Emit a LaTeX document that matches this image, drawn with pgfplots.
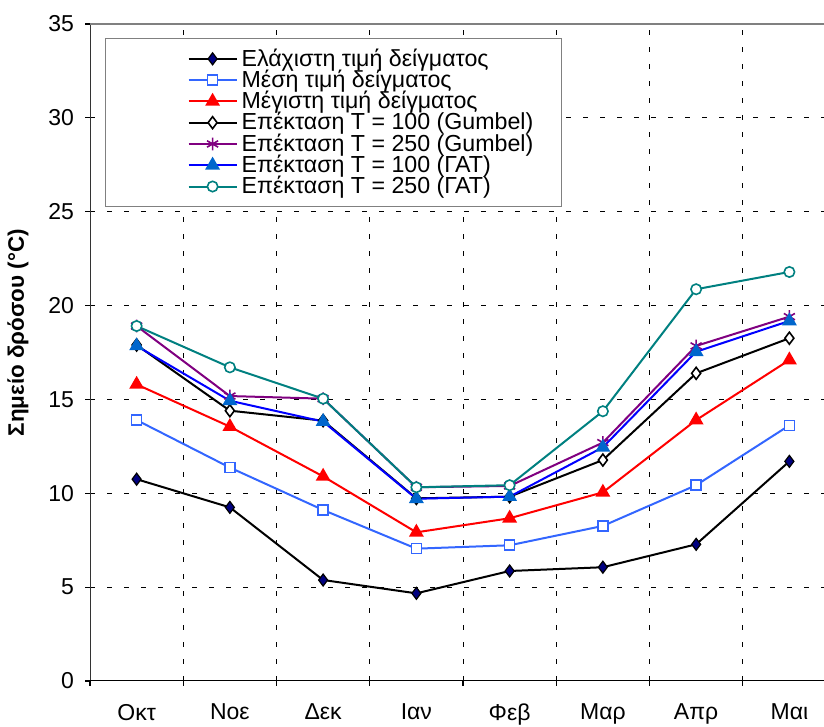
\documentclass[border=0pt]{standalone}
\usepackage{fontspec}
\setmainfont{Liberation Sans}
\usepackage{pgfplots}
\pgfplotsset{compat=1.18}

\definecolor{navyd}{RGB}{0,0,128}
\definecolor{meanblue}{RGB}{51,102,255}
\definecolor{gatblue}{RGB}{0,102,204}
\definecolor{tealc}{RGB}{0,128,128}
\definecolor{purp}{RGB}{128,0,128}

\begin{document}
\begin{tikzpicture}
\begin{axis}[
  name=main,
  scale only axis,
  width=373pt, height=328.5pt,
  xmin=-0.5, xmax=7.5, ymin=0, ymax=35,
  ytick={0,5,...,35},
  xtick={0,...,7},
  xticklabels={Οκτ,Νοε,Δεκ,Ιαν,Φεβ,Μαρ,Απρ,Μαι},
  minor xtick={-0.5,0.5,...,7.5},
  major x tick style={draw=none},
  tick align=outside, tick pos=left,
  major tick length=2.5pt, minor tick length=2.5pt,
  every tick/.style={black, line width=0.6pt},
  axis line style={draw=none},
  ymajorgrids, xminorgrids,
  grid style={black, dash pattern=on 2.5pt off 6pt, line width=0.5pt},
  minor grid style={black, dash pattern=on 2.5pt off 6pt, line width=0.5pt},
  /pgf/number format/assume math mode=true,
  tick label style={font=\fontsize{11.5}{13}\selectfont},
  yticklabel style={xshift=-2pt},
  xticklabel style={yshift=-5.5pt},
  ylabel={\textbf{Σημείο δρόσου (°C)}},
  ylabel style={at={(axis description cs:-0.0965,0.53)}, anchor=center, font=\fontsize{11.2}{13}\selectfont},
  legend cell align=left,
  legend style={at={(0.0201,0.9787)}, anchor=north west, draw=gray, line width=0.6pt,
    font=\fontsize{11.6}{13}\selectfont, inner xsep=12pt, inner ysep=3pt, row sep=-3.6pt},
  legend image code/.code={\path (-29pt,0pt);
    \draw[mark repeat=2,mark phase=2,#1] plot coordinates {(0pt,0pt) (12pt,0pt) (24pt,0pt)};},
]
\addplot[black, line width=1pt, mark=diamond*, mark size=3pt, mark options={fill=navyd, draw=black, line width=0.6pt}] coordinates {
  (0,10.75) (1,9.25) (2,5.38) (3,4.67) (4,5.86) (5,6.06) (6,7.28) (7,11.70)
};
\addlegendentry{Ελάχιστη τιμή δείγματος}
\addplot[meanblue, line width=1pt, mark=square*, mark size=2.5pt, mark options={fill=white, line width=0.8pt}] coordinates {
  (0,13.90) (1,11.37) (2,9.11) (3,7.05) (4,7.23) (5,8.26) (6,10.43) (7,13.62)
};
\addlegendentry{Μέση τιμή δείγματος}
\addplot[red, line width=1pt, mark=triangle*, mark size=3.3pt, mark options={fill=red}] coordinates {
  (0,15.80) (1,13.55) (2,10.90) (3,7.92) (4,8.67) (5,10.05) (6,13.90) (7,17.10)
};
\addlegendentry{Μέγιστη τιμή δείγματος}
\addplot[black, line width=1pt, mark=diamond*, mark size=3pt, mark options={fill=white, line width=0.8pt}] coordinates {
  (0,17.90) (1,14.40) (2,13.87) (3,9.73) (4,9.82) (5,11.77) (6,16.39) (7,18.26)
};
\addlegendentry{Επέκταση T = 100 (Gumbel)}
\addplot[purp, line width=1pt, mark=asterisk, mark size=3.2pt, mark options={line width=0.8pt}] coordinates {
  (0,18.91) (1,15.18) (2,15.04) (3,10.32) (4,10.39) (5,12.70) (6,17.85) (7,19.41)
};
\addlegendentry{Επέκταση T = 250 (Gumbel)}
\addplot[blue, line width=1pt, mark=triangle*, mark size=3.3pt, mark options={fill=gatblue, draw=gatblue}] coordinates {
  (0,17.85) (1,14.93) (2,13.82) (3,9.71) (4,9.82) (5,12.45) (6,17.54) (7,19.18)
};
\addlegendentry{Επέκταση T = 100 (ΓΑΤ)}
\addplot[tealc, line width=1pt, mark=*, mark size=2.6pt, mark options={fill=white, line width=0.8pt}] coordinates {
  (0,18.91) (1,16.71) (2,15.04) (3,10.32) (4,10.43) (5,14.37) (6,20.87) (7,21.79)
};
\addlegendentry{Επέκταση T = 250 (ΓΑΤ)}
\draw[black!80, line width=1pt] (rel axis cs:0,0) -- (rel axis cs:0,1);
\draw[black, line width=1pt] (rel axis cs:0,0) -- (rel axis cs:1,0);
\draw[gray, line width=0.8pt] (rel axis cs:0,1) -- (rel axis cs:1,1);
\end{axis}
\pgfresetboundingbox
\path[use as bounding box] ([shift={(-45pt,-23pt)}]main.south west) rectangle ([shift={(367pt,12pt)}]main.north west);
\end{tikzpicture}
\end{document}
